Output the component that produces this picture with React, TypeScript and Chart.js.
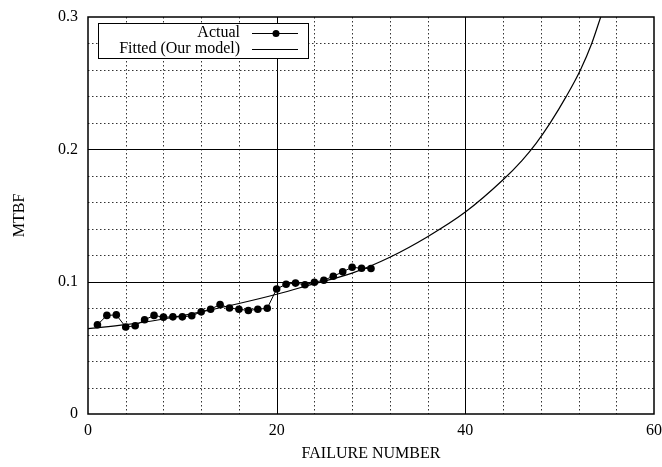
import React, { useEffect, useRef } from "react";
import { Chart, registerables } from "chart.js";

Chart.register(...registerables);

const failureNumbers = [
  1, 2, 3, 4, 5, 6, 7, 8, 9, 10, 11, 12, 13, 14, 15, 16, 17, 18, 19, 20, 21, 22,
  23, 24, 25, 26, 27, 28, 29, 30,
];
const actualMTBF = [
  0.0674, 0.0745, 0.0749, 0.0657, 0.0667, 0.0712, 0.0745, 0.0732, 0.0734,
  0.0734, 0.0742, 0.0772, 0.0792, 0.0827, 0.0801, 0.0792, 0.0782, 0.0792,
  0.0799, 0.0945, 0.0981, 0.0989, 0.0977, 0.0996, 0.1011, 0.1041, 0.1074,
  0.1109, 0.1101, 0.1099,
];
const fittedX = [
  0, 4, 8, 12, 16, 20, 24, 28, 32, 36, 40, 44, 46, 47.5, 49, 50.7, 52.2, 53.4,
  54.35,
];
const fittedMTBF = [
  0.0645, 0.0675, 0.0718, 0.0772, 0.0835, 0.0905, 0.0985, 0.1065, 0.1185,
  0.134, 0.1526, 0.177, 0.1915, 0.2045, 0.22, 0.24, 0.26, 0.28, 0.3,
];
const xTickLabels = [0, 20, 40, 60];
const yTickLabels = [0, 0.1, 0.2, 0.3];
const legendLabels = ["Actual", "Fitted (Our model)"];
const xTitle = "FAILURE NUMBER";
const yTitle = "MTBF";

const FONT = "'Liberation Serif', 'Times New Roman', serif";

const gridPlugin = {
  id: "customGrid",
  beforeDatasetsDraw(chart: any) {
    const { ctx, chartArea: a, scales } = chart;
    const xs = scales.x;
    const ys = scales.y;
    ctx.save();
    xs.ticks.forEach((t: any) => {
      const v = t.value;
      if (v <= xs.min || v >= xs.max) return;
      const px = Math.round(xs.getPixelForValue(v)) + 0.5;
      const major = xTickLabels.includes(Math.round(v)) && Math.abs(v - Math.round(v)) < 1e-6;
      ctx.beginPath();
      ctx.lineWidth = 1;
      ctx.strokeStyle = major ? "#000" : "#333";
      ctx.setLineDash(major ? [] : [1.5, 2.5]);
      ctx.moveTo(px, a.top);
      ctx.lineTo(px, a.bottom);
      ctx.stroke();
    });
    ys.ticks.forEach((t: any) => {
      const v = t.value;
      if (v <= ys.min + 1e-9 || v >= ys.max - 1e-9) return;
      const py = Math.round(ys.getPixelForValue(v)) + 0.5;
      const major = yTickLabels.some((l) => Math.abs(l - v) < 1e-6);
      ctx.beginPath();
      ctx.lineWidth = 1;
      ctx.strokeStyle = major ? "#000" : "#333";
      ctx.setLineDash(major ? [] : [1.5, 2.5]);
      ctx.moveTo(a.left, py);
      ctx.lineTo(a.right, py);
      ctx.stroke();
    });
    ctx.restore();
  },
  afterDraw(chart: any) {
    const { ctx, chartArea: a } = chart;
    ctx.save();
    ctx.setLineDash([]);
    ctx.strokeStyle = "#000";
    ctx.lineWidth = 1.5;
    ctx.strokeRect(a.left, a.top, a.right - a.left, a.bottom - a.top);

    // legend
    const lx = a.left + 10;
    const ly = a.top + 6;
    const lw = 210;
    const lh = 35;
    ctx.fillStyle = "#fff";
    ctx.fillRect(lx, ly, lw, lh);
    ctx.lineWidth = 1;
    ctx.strokeRect(lx + 0.5, ly + 0.5, lw, lh);
    ctx.font = `16px ${FONT}`;
    ctx.fillStyle = "#000";
    ctx.textAlign = "right";
    ctx.textBaseline = "middle";
    const textRight = lx + 142;
    const rows = [ly + 10, ly + 26];
    legendLabels.forEach((lab, i) => {
      ctx.fillText(lab, textRight, rows[i]);
      ctx.beginPath();
      ctx.moveTo(lx + 154, rows[i] + 0.5);
      ctx.lineTo(lx + 200, rows[i] + 0.5);
      ctx.stroke();
    });
    ctx.beginPath();
    ctx.arc(lx + 178, rows[0] + 0.5, 3.5, 0, Math.PI * 2);
    ctx.fill();
    ctx.restore();
  },
};

export default function App() {
  const canvasRef = useRef<HTMLCanvasElement | null>(null);

  useEffect(() => {
    document.body.style.margin = "0";
    const canvas = canvasRef.current;
    if (!canvas) return;
    const chart = new Chart(canvas, {
      type: "scatter",
      data: {
        datasets: [
          {
            label: legendLabels[0],
            data: failureNumbers.map((x, i) => ({ x, y: actualMTBF[i] })),
            showLine: true,
            borderColor: "#000",
            backgroundColor: "#000",
            borderWidth: 1,
            pointRadius: 3.8,
            pointBorderWidth: 0,
            pointBackgroundColor: "#000",
            pointHoverRadius: 3.8,
          },
          {
            label: legendLabels[1],
            data: fittedX.map((x, i) => ({ x, y: fittedMTBF[i] })),
            showLine: true,
            borderColor: "#000",
            borderWidth: 1.2,
            pointRadius: 0,
            cubicInterpolationMode: "monotone",
          },
        ],
      },
      options: {
        responsive: false,
        animation: false,
        layout: { padding: { left: 0, top: 17, right: 8, bottom: 0 } },
        plugins: {
          legend: { display: false },
          tooltip: { enabled: false },
        },
        events: [],
        scales: {
          x: {
            type: "linear",
            min: 0,
            max: 60,
            grid: { display: false, drawTicks: false },
            border: { display: false },
            ticks: {
              stepSize: 4,
              autoSkip: false,
              maxRotation: 0,
              padding: 7,
              color: "#000",
              font: { family: FONT, size: 16 },
              callback: (v: any) =>
                xTickLabels.includes(Number(v)) ? String(v) : "",
            },
            title: {
              display: true,
              text: xTitle,
              color: "#000",
              font: { family: FONT, size: 16 },
              padding: { top: 0, bottom: 4 },
            },
            afterFit: (s: any) => {
              s.height = 53;
              s.paddingLeft = 0;
              s.paddingRight = 0;
            },
          },
          y: {
            type: "linear",
            min: 0,
            max: 0.3,
            grid: { display: false, drawTicks: false },
            border: { display: false },
            ticks: {
              stepSize: 0.02,
              autoSkip: false,
              padding: 10,
              color: "#000",
              font: { family: FONT, size: 16 },
              callback: (v: any) => {
                const n = Number(v);
                const hit = yTickLabels.find((l) => Math.abs(l - n) < 1e-6);
                if (hit === undefined) return "";
                return hit === 0 ? "0" : hit.toFixed(1);
              },
            },
            title: {
              display: true,
              text: yTitle,
              color: "#000",
              font: { family: FONT, size: 16 },
              padding: { top: 10, bottom: 0 },
            },
            afterFit: (s: any) => {
              s.width = 88;
              s.paddingTop = 0;
              s.paddingBottom = 0;
            },
          },
        },
      },
      plugins: [gridPlugin],
    });
    return () => chart.destroy();
  }, []);

  return (
    <div style={{ width: 662, height: 467 }}>
      <canvas ref={canvasRef} width={662} height={467} />
    </div>
  );
}
